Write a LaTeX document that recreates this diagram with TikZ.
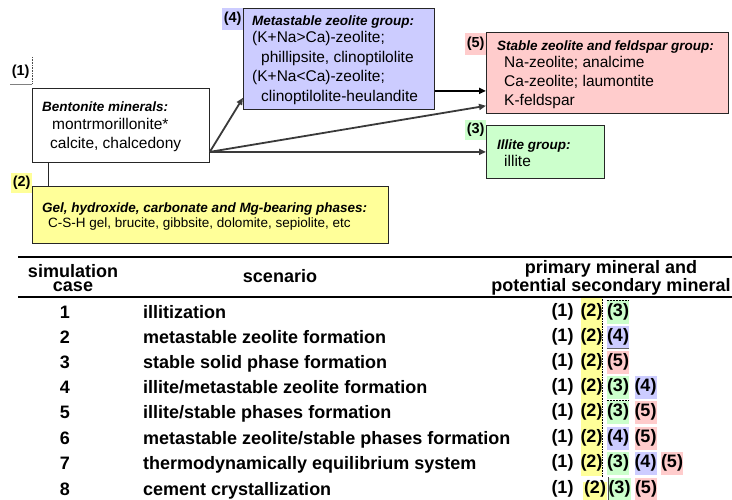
\documentclass[tikz,border=0pt]{standalone}
\usepackage{fontspec}
\setmainfont{Liberation Sans}
\usetikzlibrary{arrows.meta}
\definecolor{zeoblue}{HTML}{CCCCFF}
\definecolor{stablered}{HTML}{FFCCCC}
\definecolor{illitegreen}{HTML}{CCFFCC}
\definecolor{gelyellow}{HTML}{FFFF99}
\definecolor{arrowgray}{HTML}{3A3A3A}

\begin{document}
\begin{tikzpicture}[x=1pt,y=-1pt,
  box/.style={draw=black!85, line width=0.8pt, anchor=north west, inner sep=0pt},
  hd/.style={font=\fontsize{13.5}{15}\selectfont\bfseries\itshape, anchor=base west, inner sep=0pt},
  bd/.style={font=\fontsize{15.5}{18}\selectfont, anchor=base west, inner sep=0pt},
  sm/.style={font=\fontsize{13.5}{15}\selectfont, anchor=base west, inner sep=0pt},
  tag/.style={font=\fontsize{14.5}{16}\selectfont\bfseries, inner sep=0pt, minimum width=21pt, minimum height=20pt, anchor=north west},
  flow/.style={draw=arrowgray, line width=1.8pt, -{Triangle[length=7pt,width=6pt]}},
  tbl/.style={font=\fontsize{18}{14}\selectfont\bfseries, inner sep=0pt},
  badge/.style={tbl, minimum width=22pt, minimum height=23pt},
  rule/.style={line width=1.6pt}
]
\fill[white] (0,0) rectangle (732,500);
\useasboundingbox (0,0) rectangle (732,500);

% ---------- mineral groups ----------
\node[box, minimum width=177pt, minimum height=74pt] (bent) at (32,88) {};
\node[box, fill=zeoblue, minimum width=191pt, minimum height=101pt] (meta) at (243,8) {};
\node[box, fill=stablered, minimum width=242pt, minimum height=81pt] (pink) at (486,32) {};
\node[box, fill=illitegreen, minimum width=118pt, minimum height=53pt] (ill) at (486,125) {};
\node[box, fill=gelyellow, minimum width=356pt, minimum height=57pt] (gel) at (32,186) {};

% group tags
\node[tag] (t1) at (10,62) {(1)};
\node[tag, fill=zeoblue, minimum height=22pt] (t4) at (222,8) {(4)};
\node[tag, fill=stablered, minimum height=22pt] (t5) at (465,33) {(5)};
\node[tag, fill=illitegreen] (t3) at (465,120) {(3)};
\node[tag, fill=gelyellow] (t2) at (11,173) {(2)};
\draw[densely dotted, line width=0.6pt, black!70] (32,57) -- (32,84);
\draw[black!50, line width=0.8pt] (10,84) -- (32,84);

% box texts
\node[hd] (bentH) at (42,112) {Bentonite minerals:};
\node[bd] (bent1) at (52,130) {montrmorillonite*};
\node[bd] (bent2) at (50,149) {calcite, chalcedony};

\node[hd] (metaH) at (252,26) {Metastable zeolite group:};
\node[bd] (meta1) at (252,42.5) {(K+Na>Ca)-zeolite;};
\node[bd] (meta2) at (261,62.5) {phillipsite, clinoptilolite};
\node[bd] (meta3) at (252,81.5) {(K+Na<Ca)-zeolite;};
\node[bd] (meta4) at (261,101.5) {clinoptilolite-heulandite};

\node[hd] (pinkH) at (497,51) {Stable zeolite and feldspar group:};
\node[bd] (pink1) at (504,67.5) {Na-zeolite; analcime};
\node[bd] (pink2) at (504,86.5) {Ca-zeolite; laumontite};
\node[bd] (pink3) at (504,105.5) {K-feldspar};

\node[hd] (illH) at (497,150) {Illite group:};
\node[bd] (ill1) at (504,166.5) {illite};

\node[hd] (gelH) at (42,213) {Gel, hydroxide, carbonate and Mg-bearing phases:};
\node[sm] (gel1) at (48,228) {C-S-H gel, brucite, gibbsite, dolomite, sepiolite, etc};

% connectors
\coordinate (src) at (bent.east |- ill.west);
\draw[flow] (src) -- ([yshift=12pt]meta.south west);
\draw[flow] (src) -- ([yshift=8pt]pink.south west);
\draw[flow] (src) -- (ill.west);
\coordinate (mout) at ([yshift=-32pt]meta.east);
\draw[flow, draw=black] (mout) -- (mout -| pink.west);
\coordinate (tap) at ([xshift=16pt]bent.south west);
\draw[line width=0.8pt, black!85] (tap) -- (tap |- gel.north);

% ---------- simulation table ----------
\fill[gelyellow] (581,297) rectangle (602,476);
\fill[gelyellow] (583,482) rectangle (607,500);
\draw[densely dotted, line width=0.6pt] (602,297) -- (602,477);

\draw[rule] (18,257) -- (732,257);
\draw[rule] (18,297) -- (732,297);

\node[tbl, align=center] (hcase) at (73,278) {simulation\\case};
\node[tbl, anchor=base] (hscen) at (280,282.5) {scenario};
\node[tbl, align=center] (hmin) at (611,278) {primary mineral and\\potential secondary mineral};

% case numbers
\node[tbl, anchor=base] (c1) at (65,318.3) {1};
\node[tbl, anchor=base] (c2) at (65,343.3) {2};
\node[tbl, anchor=base] (c3) at (65,368.3) {3};
\node[tbl, anchor=base] (c4) at (65,393.3) {4};
\node[tbl, anchor=base] (c5) at (65,418.3) {5};
\node[tbl, anchor=base] (c6) at (65,444.3) {6};
\node[tbl, anchor=base] (c7) at (65,469.3) {7};
\node[tbl, anchor=base] (c8) at (65,495.3) {8};

% scenarios
\node[tbl, anchor=base west] (s1) at (143,318.3) {illitization};
\node[tbl, anchor=base west] (s2) at (143,343.3) {metastable zeolite formation};
\node[tbl, anchor=base west] (s3) at (143,368.3) {stable solid phase formation};
\node[tbl, anchor=base west] (s4) at (143,393.3) {illite/metastable zeolite formation};
\node[tbl, anchor=base west] (s5) at (143,418.3) {illite/stable phases formation};
\node[tbl, anchor=base west] (s6) at (143,444.3) {metastable zeolite/stable phases formation};
\node[tbl, anchor=base west] (s7) at (143,469.3) {thermodynamically equilibrium system};
\node[tbl, anchor=base west] (s8) at (143,495.3) {cement crystallization};

% mineral groups per case
\node[badge] (r1a) at (562.5,312) {(1)};
\node[badge] (r1b) at (591.5,312) {(2)};
\node[badge, fill=illitegreen] (r1c) at (618,312) {(3)};

\node[badge] (r2a) at (562.5,337) {(1)};
\node[badge] (r2b) at (591.5,337) {(2)};
\node[badge, fill=zeoblue] (r2c) at (618,337) {(4)};

\node[badge] (r3a) at (562.5,362) {(1)};
\node[badge] (r3b) at (591.5,362) {(2)};
\node[badge, fill=stablered] (r3c) at (618,362) {(5)};

\node[badge] (r4a) at (562.5,387) {(1)};
\node[badge] (r4b) at (591.5,387) {(2)};
\node[badge, fill=illitegreen] (r4c) at (618,387) {(3)};
\node[badge, fill=zeoblue] (r4d) at (645.5,387) {(4)};

\node[badge] (r5a) at (562.5,412) {(1)};
\node[badge] (r5b) at (591.5,412) {(2)};
\node[badge, fill=illitegreen] (r5c) at (618,412) {(3)};
\node[badge, fill=stablered] (r5d) at (645.5,412) {(5)};

\node[badge] (r6a) at (562.5,438) {(1)};
\node[badge] (r6b) at (591.5,438) {(2)};
\node[badge, fill=zeoblue] (r6c) at (618,438) {(4)};
\node[badge, fill=stablered] (r6d) at (645.5,438) {(5)};

\node[badge] (r7a) at (562.5,463) {(1)};
\node[badge] (r7b) at (591.5,463) {(2)};
\node[badge, fill=illitegreen] (r7c) at (618,463) {(3)};
\node[badge, fill=zeoblue] (r7d) at (645.5,463) {(4)};
\node[badge, fill=stablered] (r7e) at (672,463) {(5)};

\node[badge] (r8a) at (562.5,489) {(1)};
\node[badge] (r8b) at (595,489) {(2)};
\node[badge, fill=illitegreen] (r8c) at (619.5,489) {(3)};
\node[badge, fill=stablered] (r8d) at (646,489) {(5)};

% small edge marks on some cells
\draw[densely dotted, line width=0.5pt] (r1c.north west) -- (r1c.north east);
\draw[densely dotted, line width=0.5pt] (r5c.north west) -- (r5c.north east);
\draw[black!60, line width=0.7pt] (r2c.south west) -- (r2c.south east);
\draw[black!70, line width=0.7pt] (r8c.north west) -- (r8c.south west);
\end{tikzpicture}
\end{document}
